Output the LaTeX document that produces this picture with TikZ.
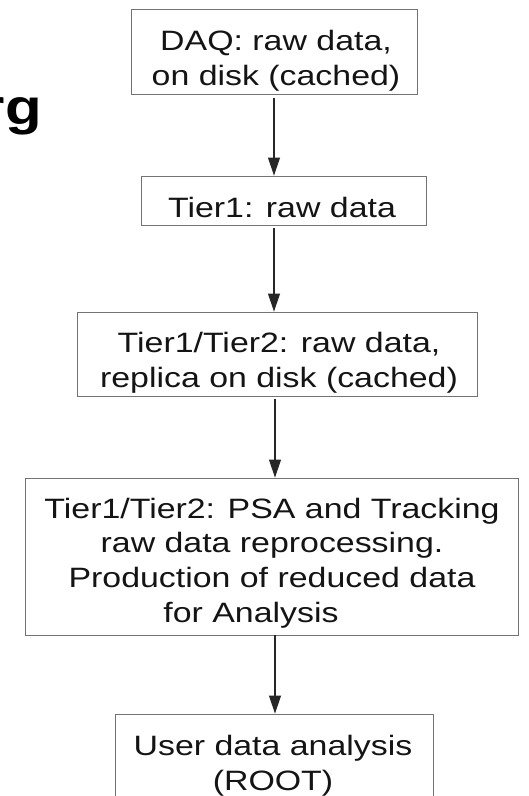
\documentclass[tikz,border=0pt]{standalone}
\usepackage{fontspec}
\setmainfont{Liberation Sans}
\newfontfamily\boxfont[FakeStretch=1.21]{Liberation Sans}
\newfontfamily\titlefont[FakeStretch=1.2]{Liberation Sans}
\usetikzlibrary{arrows.meta}
\begin{document}
\begin{tikzpicture}[x=1pt,y=-1pt,
  box/.style={draw=black!55, line width=0.9pt, rectangle, inner sep=0pt},
  txt/.style={anchor=base, inner sep=0pt, font=\boxfont\fontsize{28}{35}\selectfont, text=black!92},
  arr/.style={draw=black!85, line width=1.1pt, -{Triangle[length=18pt,width=12pt]}}]
\useasboundingbox (0,0) rectangle (529,796);
\clip (0,0) rectangle (529,796);
% boxes
\node[box, minimum width=286pt, minimum height=85pt]  (b1) at (274,51.5) {};
\node[box, minimum width=285pt, minimum height=49pt]  (b2) at (284,200.5) {};
\node[box, minimum width=400pt, minimum height=84pt]  (b3) at (277,354) {};
\node[box, minimum width=493pt, minimum height=157pt] (b4) at (272,556.5) {};
\node[box, minimum width=318pt, minimum height=120pt] (b5) at (274,774) {};
% texts
\node[txt] (t1a) at (276,50) {DAQ: raw data,};
\node[txt] (t1b) at (276,85) {on disk (cached)};
\node[txt] (t2)  at (282,217) {Tier1: raw data};
\node[txt] (t3a) at (279,352) {Tier1/Tier2: raw data,};
\node[txt] (t3b) at (279,387) {replica on disk (cached)};
\node[txt] (t4a) at (272,518) {Tier1/Tier2: PSA and Tracking};
\node[txt] (t4b) at (272,552.7) {raw data reprocessing.};
\node[txt] (t4c) at (272,587.3) {Production of reduced data};
\node[txt] (t4d) at (251,622) {for Analysis};
\node[txt] (t5a) at (273,755) {User data analysis};
\node[txt] (t5b) at (273,790) {(ROOT)};
% title fragment
\node[anchor=base east, inner sep=0pt, font=\titlefont\bfseries\fontsize{50}{60}\selectfont] (title) at (42,124) {rg};
% arrows
\coordinate (c1) at (274,0);
\coordinate (c2) at (275,0);
\draw[arr] ([yshift=-4pt]b1.south -| c1) -- (b2.north -| c1);
\draw[arr] ([yshift=-3pt]b2.south -| c1) -- (b3.north -| c1);
\draw[arr] ([yshift=-3pt]b3.south -| c2) -- (b4.north -| c2);
\draw[arr] (b4.south -| c2) -- (b5.north -| c2);
\end{tikzpicture}
\end{document}
